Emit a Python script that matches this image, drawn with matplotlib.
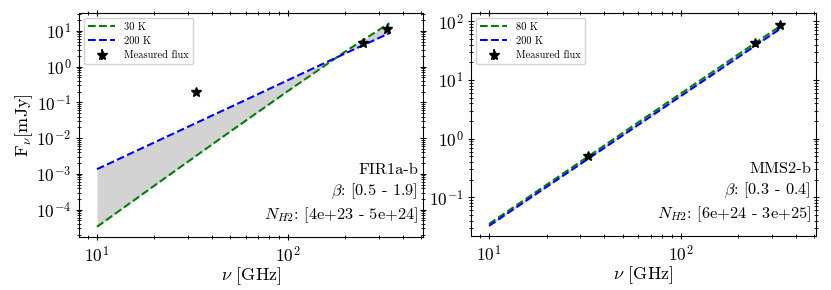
import numpy as np
import matplotlib
matplotlib.use("Agg")
import matplotlib.pyplot as plt
from matplotlib.ticker import NullFormatter

plt.rcParams['font.family'] = 'serif'
plt.rcParams['font.serif'] = ['cmr10']
plt.rcParams['mathtext.fontset'] = 'cm'
plt.rcParams['axes.formatter.use_mathtext'] = True
plt.rcParams['axes.unicode_minus'] = False

# ---- data ----
freq = [10, 20, 50, 100, 200, 340]

# FIR1a-b
fir_cold_label = "30 K"
fir_hot_label = "200 K"
fir_cold = [3.3e-5, 4.7e-4, 0.0154, 0.207, 2.66, 16.4]
fir_hot = [1.35e-3, 7.6e-3, 0.074, 0.417, 2.35, 8.6]
fir_meas_freq = [33, 246, 330]
fir_meas_flux = [0.2, 4.7, 11.4]
fir_text = "FIR1a-b\n$\\beta$: [0.5 - 1.9]\n$N_{H2}$: [4e+23 - 5e+24]"

# MMS2-b
mms_cold_label = "80 K"
mms_hot_label = "200 K"
mms_cold = [0.0352, 0.164, 1.26, 5.85, 27.2, 88]
mms_hot = [0.0326, 0.151, 1.14, 5.28, 24.4, 79]
mms_meas_freq = [33, 244, 330]
mms_meas_flux = [0.50, 43, 86.5]
mms_text = "MMS2-b\n$\\beta$: [0.3 - 0.4]\n$N_{H2}$: [6e+24 - 3e+25]"

xlims = (8.05, 510)

fig = plt.figure(figsize=(8.31, 2.90), dpi=100)
ax1 = fig.add_axes([79/831, 1-237/290, 344/831, 224/290])
ax2 = fig.add_axes([471/831, 1-236/290, 345/831, 223/290])

def draw(ax, cold, hot, cl, hl, mf, mv, txt):
    ax.fill_between(freq, cold, hot, color='lightgray', lw=0)
    ax.plot(freq, cold, '--', color='green', lw=1.5, label=cl)
    ax.plot(freq, hot, '--', color='blue', lw=1.5, label=hl)
    mv = np.array(mv)
    ax.errorbar(mf, mv, yerr=0.08*mv, fmt='*', color='k', ms=7,
                elinewidth=1.2, label='Measured flux')
    ax.set_xscale('log')
    ax.set_yscale('log')
    ax.set_xlim(*xlims)
    ax.xaxis.set_minor_formatter(NullFormatter())
    ax.yaxis.set_minor_formatter(NullFormatter())
    ax.tick_params(which='both', direction='inout', top=True, right=True,
                   labelsize=12.5, pad=3)
    ax.tick_params(which='major', length=5)
    ax.tick_params(which='minor', length=3)
    ax.set_xlabel(r'$\nu$ [GHz]', fontsize=13, labelpad=0)
    ax.legend(loc='upper left', fontsize=7.5, handlelength=2.6,
              borderpad=0.4, labelspacing=0.45, framealpha=0.9)
    ax.text(0.985, 0.055, txt, transform=ax.transAxes, ha='right', va='bottom',
            multialignment='right', fontsize=11.8, linespacing=1.3)

draw(ax1, fir_cold, fir_hot, fir_cold_label, fir_hot_label,
     fir_meas_freq, fir_meas_flux, fir_text)
draw(ax2, mms_cold, mms_hot, mms_cold_label, mms_hot_label,
     mms_meas_freq, mms_meas_flux, mms_text)
ax1.set_ylabel(r'F$_\nu$[mJy]', fontsize=13, labelpad=1)

fig.savefig('out.png', dpi=100)
